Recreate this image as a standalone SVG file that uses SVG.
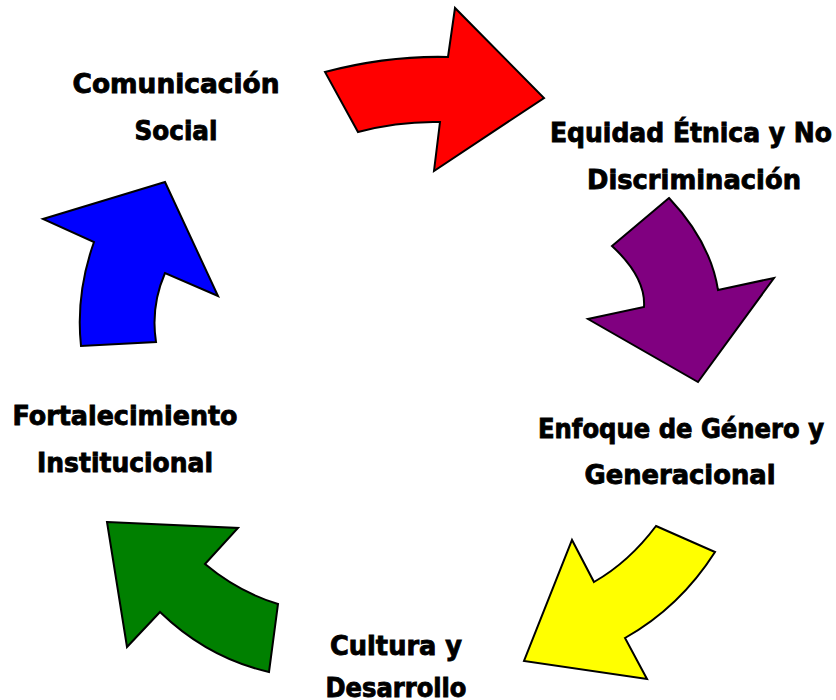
<svg xmlns="http://www.w3.org/2000/svg" width="836" height="700" viewBox="0 0 836 700">
<style>
.arrow{stroke:#000;stroke-width:2;stroke-linejoin:miter}
.lbl{font-family:"DejaVu Sans","Liberation Sans",sans-serif;font-weight:bold;font-size:27px;fill:#000;stroke:#000;stroke-width:0.9;text-anchor:middle}
</style>
<rect width="836" height="700" fill="#fff"/>
<g id="connectors">
<path id="arrow-red" class="arrow" fill="#FF0000" d="M325,72 Q387.5,55.5 448,57 L455,8 L544,98 L434,171 L440,122 Q399,121 358,132 Z"/>
<path id="arrow-purple" class="arrow" fill="#800080" d="M669,198 L612,246 Q646,277.5 644,307 L588,319 L698,382 L774,278 L718,290 Q710.5,242 669,198 Z"/>
<path id="arrow-yellow" class="arrow" fill="#FFFF00" d="M656,526 L715,552 Q680,607 625,638 L647,679 L524,661 L572,540 L594,582 Q629,562 656,526 Z"/>
<path id="arrow-green" class="arrow" fill="#008000" d="M107,522 L238,528 L205,564 Q238.5,592 278,604 L269,672 Q207.5,658 160,612 L127,647 Z"/>
<path id="arrow-blue" class="arrow" fill="#0000FF" d="M165,182 L218,296 L165,273 Q150.5,306.5 156,342 L81,346 Q75.5,294 94,242 L43,219 Z"/>
</g>
<g id="node-comunicacion">
<text class="lbl" x="176" y="93" textLength="207" lengthAdjust="spacingAndGlyphs">Comunicación</text>
<text class="lbl" x="176" y="140" textLength="83" lengthAdjust="spacingAndGlyphs">Social</text>
</g>
<g id="node-equidad">
<text class="lbl" x="691" y="142" textLength="282" lengthAdjust="spacingAndGlyphs">Equidad Étnica y No</text>
<text class="lbl" x="694" y="189" textLength="214" lengthAdjust="spacingAndGlyphs">Discriminación</text>
</g>
<g id="node-enfoque">
<text class="lbl" x="681" y="438" textLength="286" lengthAdjust="spacingAndGlyphs">Enfoque de Género y</text>
<text class="lbl" x="680" y="484" textLength="191" lengthAdjust="spacingAndGlyphs">Generacional</text>
</g>
<g id="node-fortalecimiento">
<text class="lbl" x="125" y="425" textLength="225" lengthAdjust="spacingAndGlyphs">Fortalecimiento</text>
<text class="lbl" x="125" y="472" textLength="176" lengthAdjust="spacingAndGlyphs">Institucional</text>
</g>
<g id="node-cultura">
<text class="lbl" x="396" y="655" textLength="132" lengthAdjust="spacingAndGlyphs">Cultura y</text>
<text class="lbl" x="396" y="697" textLength="141" lengthAdjust="spacingAndGlyphs">Desarrollo</text>
</g>
</svg>
